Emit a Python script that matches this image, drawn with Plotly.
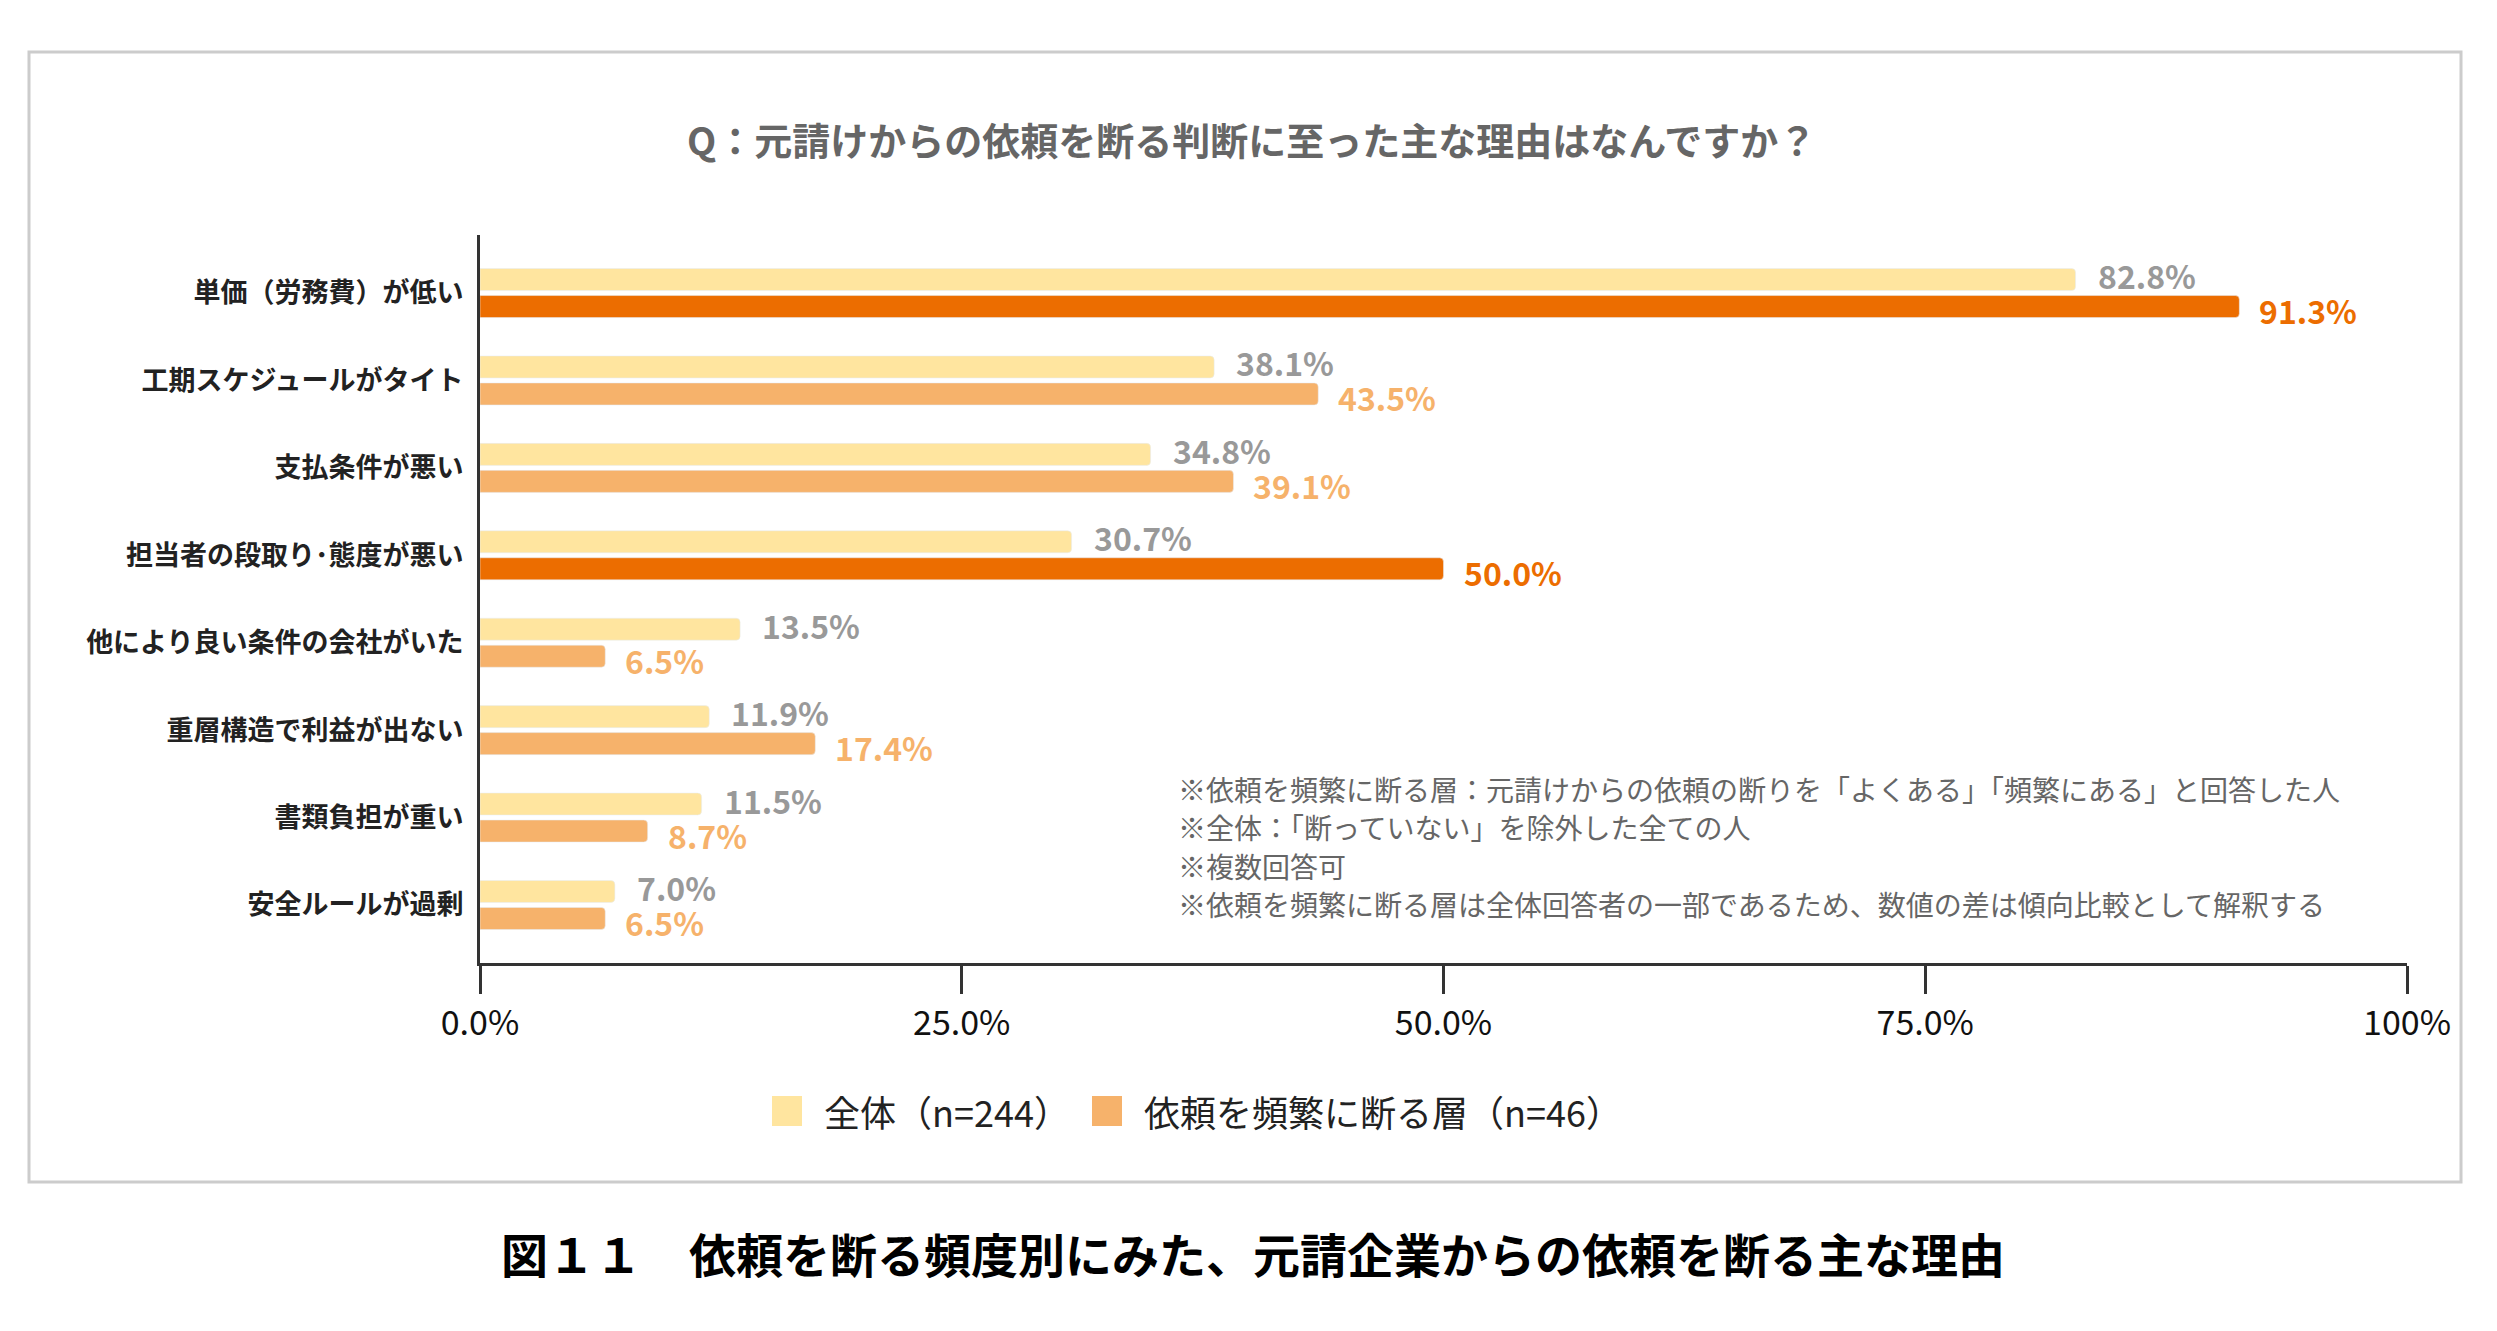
import plotly.graph_objects as go

# ---- data ----
categories = [
    "単価（労務費）が低い",
    "工期スケジュールがタイト",
    "支払条件が悪い",
    "担当者の段取り･態度が悪い",
    "他により良い条件の会社がいた",
    "重層構造で利益が出ない",
    "書類負担が重い",
    "安全ルールが過剰",
]
all_values = [82.8, 38.1, 34.8, 30.7, 13.5, 11.9, 11.5, 7.0]
freq_values = [91.3, 43.5, 39.1, 50.0, 6.5, 17.4, 8.7, 6.5]
highlight = [True, False, False, True, False, False, False, False]

series_names = ["全体（n=244）", "依頼を頻繁に断る層（n=46）"]
tick_vals = [0, 25, 50, 75, 100]
tick_text = ["0.0%", "25.0%", "50.0%", "75.0%", "100%"]

title_text = "Q：元請けからの依頼を断る判断に至った主な理由はなんですか？"
caption_text = "図１１　依頼を断る頻度別にみた、元請企業からの依頼を断る主な理由"
notes = [
    "※依頼を頻繁に断る層：元請けからの依頼の断りを「よくある」「頻繁にある」と回答した人",
    "※全体：「断っていない」を除外した全ての人",
    "※複数回答可",
    "※依頼を頻繁に断る層は全体回答者の一部であるため、数値の差は傾向比較として解釈する",
]

# ---- style ----
FONT = "Noto Sans CJK JP"
C_ALL = "#FFE59F"
C_FREQ = "#F6B26B"
C_HI = "#EC6D00"
C_LBL_ALL = "#999999"
W, H = 2497, 1331
PL, PR, PT, PB = 480, 2407, 235, 963  # plot area in pixels


def px(x):
    return (x - PL) / (PR - PL)


def py(y):
    return (PB - y) / (PB - PT)


freq_colors = [C_HI if h else C_FREQ for h in highlight]

fig = go.Figure()
fig.add_trace(go.Bar(
    y=categories, x=all_values, orientation="h", name=series_names[0],
    marker=dict(color=C_ALL), showlegend=False, hoverinfo="skip",
))
fig.add_trace(go.Bar(
    y=categories, x=freq_values, orientation="h", name=series_names[1],
    marker=dict(color=freq_colors), showlegend=False, hoverinfo="skip",
))

annotations = []
# value labels, anchored to each bar's value on the data axes
for cat, v in zip(categories, all_values):
    annotations.append(dict(
        x=v, y=cat, xref="x", yref="y", text=f"{v:.1f}%", showarrow=False,
        xanchor="left", yanchor="middle", xshift=20, yshift=18,
        font=dict(family=FONT, size=32, color=C_LBL_ALL, weight=700)))
for cat, v, col in zip(categories, freq_values, freq_colors):
    annotations.append(dict(
        x=v, y=cat, xref="x", yref="y", text=f"{v:.1f}%", showarrow=False,
        xanchor="left", yanchor="middle", xshift=18, yshift=-17,
        font=dict(family=FONT, size=32, color=col, weight=700)))

annotations += [
    dict(text=title_text, x=px(1251), y=py(138), xref="paper", yref="paper",
         xanchor="center", yanchor="middle", showarrow=False,
         font=dict(family=FONT, size=38, color="#666666", weight=700)),
    dict(text=caption_text, x=px(1253), y=py(1252), xref="paper", yref="paper",
         xanchor="center", yanchor="middle", showarrow=False,
         font=dict(family=FONT, size=47, color="#000000", weight=700)),
]
note_y = [789, 827, 866, 904]
for t, yy in zip(notes, note_y):
    annotations.append(dict(
        text=t, x=px(1176), y=py(yy), xref="paper", yref="paper",
        xanchor="left", yanchor="middle", showarrow=False,
        font=dict(family=FONT, size=28, color="#666666")))

# frame and legend (squares + labels)
shapes = [dict(type="rect", xref="paper", yref="paper",
               x0=px(29), x1=px(2461), y0=py(52), y1=py(1182),
               line=dict(color="#CCCCCC", width=3), fillcolor="rgba(0,0,0,0)", layer="below")]
legend_sq_x = [772, 1092]
legend_txt_x = [822, 1142]
LEG_Y = 1111
for name, col, sx, tx in zip(series_names, [C_ALL, C_FREQ], legend_sq_x, legend_txt_x):
    shapes.append(dict(type="rect", xref="paper", yref="paper",
                       x0=px(sx), x1=px(sx + 30), y0=py(LEG_Y - 15), y1=py(LEG_Y + 15),
                       line=dict(width=0), fillcolor=col))
    annotations.append(dict(
        text=name, x=px(tx), y=py(LEG_Y), xref="paper", yref="paper",
        xanchor="left", yanchor="middle", showarrow=False,
        font=dict(family=FONT, size=36, color="#222222")))

fig.update_layout(
    width=W, height=H,
    margin=dict(l=PL, r=W - PR, t=PT, b=H - PB),
    paper_bgcolor="white", plot_bgcolor="white",
    barmode="group", bargap=0.382, bargroupgap=0.185, barcornerradius=4,
    font=dict(family=FONT, color="#222222"),
    showlegend=False,
    annotations=annotations,
    shapes=shapes,
)
fig.update_xaxes(
    range=[0, 100], tickvals=tick_vals, ticktext=tick_text,
    showgrid=False, zeroline=False, showline=True, linecolor="#333333", linewidth=3,
    ticks="outside", ticklen=28, tickwidth=3, tickcolor="#333333",
    ticklabelstandoff=0,
    tickfont=dict(family=FONT, size=34, color="#111111"),
)
fig.update_yaxes(
    type="category", categoryorder="array", categoryarray=categories,
    range=[7.664, -0.664],
    showgrid=False, zeroline=False, showline=True, linecolor="#333333", linewidth=3,
    ticks="", ticklabelstandoff=8,
    tickfont=dict(family=FONT, size=27, color="#222222", weight=700),
)

fig.write_html("out.html", config={"displayModeBar": False},
               post_script="document.body.style.margin='0px';document.body.style.overflow='hidden';")
